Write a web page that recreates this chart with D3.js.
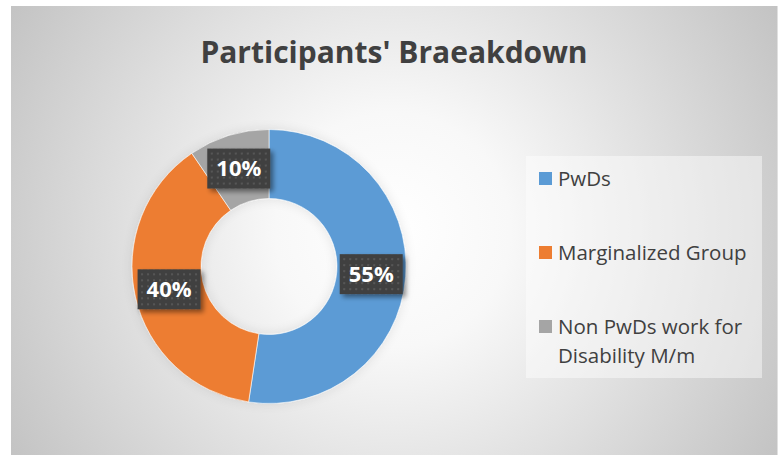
<!DOCTYPE html>
<html><head><meta charset="utf-8">
<script src="https://cdn.jsdelivr.net/npm/d3@7"></script>
<style>html,body{margin:0;padding:0;background:#fff;}svg{display:block;}</style>
</head><body>
<script>
const categories = ["PwDs", "Marginalized Group", "Non PwDs work for Disability M/m"];
const values = [55, 40, 10];
const valueLabels = ["55%", "40%", "10%"];
const colors = ["#5B9BD5", "#ED7D31", "#A5A5A5"];
const title = "Participants' Braeakdown";

const W = 779, H = 455;
const svg = d3.select("body").append("svg").attr("width", W).attr("height", H);
const defs = svg.append("defs");

const rg = defs.append("radialGradient").attr("id", "bg")
  .attr("gradientUnits", "userSpaceOnUse").attr("cx", 393).attr("cy", 230).attr("r", 470);
rg.append("stop").attr("offset", "0").attr("stop-color", "#ffffff");
rg.append("stop").attr("offset", "0.25").attr("stop-color", "#f8f8f8");
rg.append("stop").attr("offset", "1").attr("stop-color", "#bfbfbf");

const pat = defs.append("pattern").attr("id", "dots").attr("patternUnits", "userSpaceOnUse")
  .attr("width", 6).attr("height", 6);
pat.append("rect").attr("width", 6).attr("height", 6).attr("fill", "#404040");
pat.append("rect").attr("x", 2).attr("y", 2).attr("width", 2).attr("height", 2).attr("fill", "#575757");

const sh = defs.append("filter").attr("id", "sh").attr("x", "-30%").attr("y", "-30%").attr("width", "160%").attr("height", "160%");
sh.append("feGaussianBlur").attr("in", "SourceAlpha").attr("stdDeviation", 2.5);
sh.append("feOffset").attr("dx", 3).attr("dy", 3).attr("result", "b");
sh.append("feComponentTransfer").append("feFuncA").attr("type", "linear").attr("slope", 0.45);
const mg = sh.append("feMerge");
mg.append("feMergeNode");
mg.append("feMergeNode").attr("in", "SourceGraphic");

const dsh = defs.append("filter").attr("id", "dsh").attr("x", "-20%").attr("y", "-20%").attr("width", "140%").attr("height", "140%");
dsh.append("feGaussianBlur").attr("in", "SourceAlpha").attr("stdDeviation", 6);
dsh.append("feOffset").attr("dx", 0).attr("dy", 0);
dsh.append("feComponentTransfer").append("feFuncA").attr("type", "linear").attr("slope", 0.1);
const mg2 = dsh.append("feMerge");
mg2.append("feMergeNode");
mg2.append("feMergeNode").attr("in", "SourceGraphic");

svg.append("rect").attr("x", 11).attr("y", 6).attr("width", 766).attr("height", 449).attr("fill", "url(#bg)");
svg.append("line").attr("x1", 777.5).attr("x2", 777.5).attr("y1", 6).attr("y2", 455).attr("stroke", "#e0e0e0");

svg.append("text").attr("x", 394).attr("y", 63).attr("text-anchor", "middle")
  .attr("font-family", "'Open Sans', sans-serif").attr("font-weight", "bold")
  .attr("font-size", 30).attr("fill", "#404040").text(title);

const cx = 269, cy = 266.5, R = 137, r0 = 68;
const pie = d3.pie().sort(null).value(d => d);
const arcs = pie(values);
const arc = d3.arc().innerRadius(r0).outerRadius(R);
const labelArc = d3.arc().innerRadius((R + r0) / 2).outerRadius((R + r0) / 2);
const g = svg.append("g").attr("transform", `translate(${cx},${cy})`);
g.append("g").attr("filter", "url(#dsh)").selectAll("path").data(arcs).join("path")
  .attr("d", arc).attr("fill", (d, i) => colors[i]).attr("stroke", "#ffffff").attr("stroke-width", 0.6);

const lab = g.selectAll("g.lab").data(arcs).join("g").attr("class", "lab")
  .attr("transform", d => { const c = labelArc.centroid(d); return `translate(${c[0]},${c[1]})`; });
lab.append("rect").attr("x", -31.5).attr("y", -20).attr("width", 63).attr("height", 40)
  .attr("fill", "url(#dots)").attr("filter", "url(#sh)");
lab.append("text").attr("text-anchor", "middle").attr("dy", "0.36em")
  .attr("font-family", "'Open Sans', sans-serif").attr("font-weight", "bold")
  .attr("font-size", 22).attr("fill", "#ffffff").text((d, i) => valueLabels[i]);

// legend
svg.append("rect").attr("x", 526).attr("y", 156).attr("width", 236).attr("height", 222)
  .attr("fill", "#ffffff").attr("fill-opacity", 0.45);
const legendY = [172, 246, 320];
const legendLines = [["PwDs"], ["Marginalized Group"], ["Non PwDs work for", "Disability M/m"]];
const lg = svg.selectAll("g.leg").data(categories).join("g").attr("class", "leg")
  .attr("transform", (d, i) => `translate(539,${legendY[i]})`);
lg.append("rect").attr("width", 13).attr("height", 13).attr("fill", (d, i) => colors[i]);
lg.each(function (d, i) {
  const t = d3.select(this).append("text").attr("x", 19).attr("y", 14)
    .attr("font-family", "'Open Sans', sans-serif").attr("font-size", 20.5).attr("fill", "#404040");
  legendLines[i].forEach((s, k) => t.append("tspan").attr("x", 19).attr("dy", k === 0 ? 0 : 28.5).text(s));
});
</script>
</body></html>
